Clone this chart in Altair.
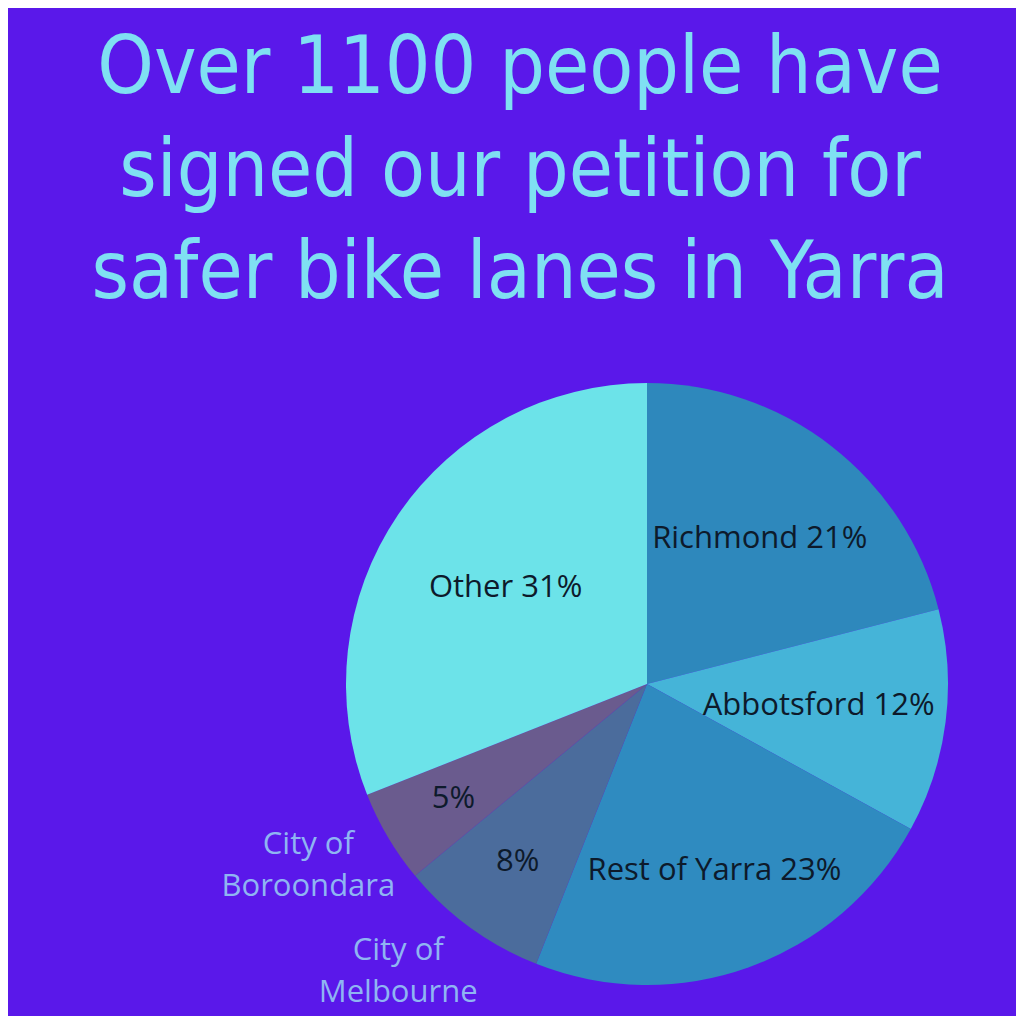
import altair as alt
import pandas as pd

# ---- data ----
regions = ["Richmond", "Abbotsford", "Rest of Yarra", "City of Melbourne", "City of Boroondara", "Other"]
shares = [21, 12, 23, 8, 5, 31]
inside_labels = ["Richmond 21%", "Abbotsford 12%", "Rest of Yarra 23%", "8%", "5%", "Other 31%"]
outside_labels = ["", "", "", "City of\nMelbourne", "City of\nBoroondara", ""]
slice_colors = ["#2E88BC", "#45B4D8", "#2F8BC0", "#4B6C9C", "#6A5B8E", "#6CE3E9"]
title_lines = ["Over 1100 people have", "signed our petition for", "safer bike lanes in Yarra"]

# label placement radii (pixels from the pie centre)
inside_r = [184, 173, 199, 220, 225, 171]
outside_r = [0, 0, 0, 345, 340, 0]

BG = "#5A18EA"
W = H = 1008
CX, CY = 639, 676
R = 301

df = pd.DataFrame({
    "idx": list(range(len(regions))),
    "region": regions,
    "share": shares,
    "inside": inside_labels,
    "outside": outside_labels,
    "r_in": inside_r,
    "r_out": outside_r,
})

title_df = pd.DataFrame({"t": ["\n".join(title_lines)]})

theta_scale = alt.Scale(domain=[0, 100])

base = alt.Chart(df).transform_window(
    cum="sum(share)", sort=[alt.SortField("idx")], frame=[None, 0]
).transform_calculate(
    start="datum.cum - datum.share",
    mid="datum.cum - datum.share / 2",
)

pie = base.mark_arc(outerRadius=R, stroke=None).encode(
    theta=alt.Theta("start:Q", scale=theta_scale, stack=None),
    theta2="cum:Q",
    color=alt.Color("region:N", scale=alt.Scale(domain=regions, range=slice_colors), legend=None),
    x=alt.value(CX), y=alt.value(CY),
)

inside = base.mark_text(font="Open Sans", fontSize=31, color="#0D1A2B",
                        align="center", baseline="middle").encode(
    theta=alt.Theta("mid:Q", scale=theta_scale, stack=None),
    text="inside:N",
    radius=alt.Radius("r_in:Q", scale=None),
    x=alt.value(CX), y=alt.value(CY),
)

outside = base.mark_text(font="Open Sans", fontSize=31, color="#8FB5F2",
                         align="center", baseline="middle", lineBreak="\n",
                         lineHeight=42, dx=-46, dy=-12).encode(
    theta=alt.Theta("mid:Q", scale=theta_scale, stack=None),
    text="outside:N",
    radius=alt.Radius("r_out:Q", scale=None),
    x=alt.value(CX), y=alt.value(CY),
)

title = alt.Chart(title_df).mark_text(
    font="DejaVu Sans Condensed, DejaVu Sans", fontSize=80, color="#7FE0F2",
    align="center", baseline="alphabetic", lineBreak="\n", lineHeight=102.5,
).encode(text="t:N", x=alt.value(512), y=alt.value(85))

chart = alt.layer(pie, inside, outside, title).properties(
    width=W, height=H, background=BG, padding=0,
    autosize=alt.AutoSizeParams(type="none"),
).configure_view(stroke=None, fill=BG)

chart.save("out.html", embed_options={"renderer": "svg", "actions": False})
